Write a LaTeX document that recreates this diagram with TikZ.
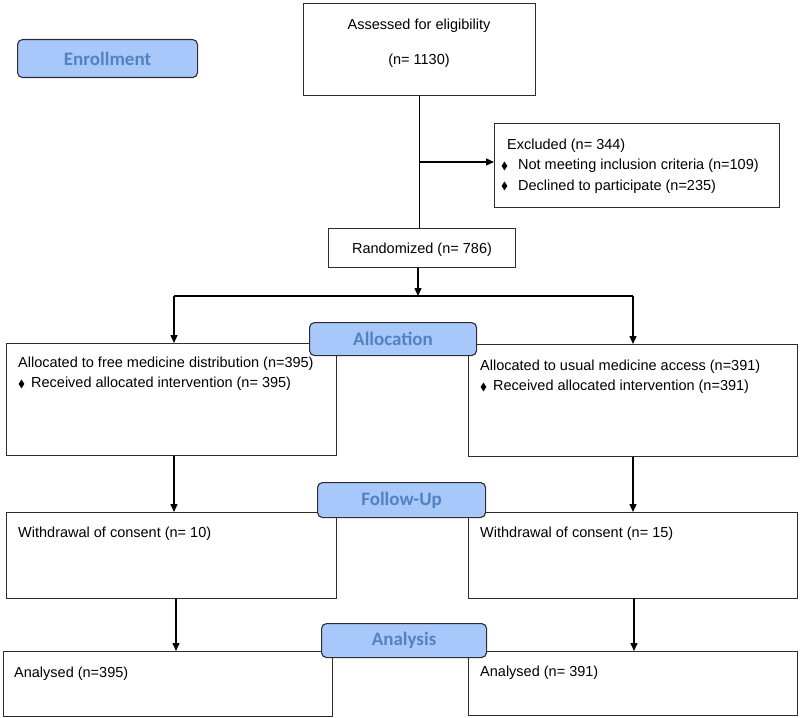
\documentclass[tikz,border=0pt]{standalone}
\usepackage{fontspec}
\usepackage{amssymb}
\setmainfont{Liberation Sans}
\newfontfamily\stagefont{Carlito}
\usetikzlibrary{arrows.meta}
\definecolor{lblfill}{RGB}{168,199,250}
\definecolor{lbltext}{RGB}{84,130,192}
\definecolor{edge}{RGB}{45,45,45}
\newcommand{\bul}{\raisebox{0.6bp}{\scalebox{0.72}{$\blacklozenge$}}}
\tikzset{
  box/.style={draw=edge, line width=1.1bp, inner sep=0pt, anchor=north west},
  txt/.style={anchor=north west, inner sep=0pt, align=left, font=\fontsize{14.5bp}{20.5bp}\selectfont},
  ctxt/.style={anchor=north, inner sep=0pt, align=center, font=\fontsize{14.5bp}{20.5bp}\selectfont},
  stage/.style={draw=edge, line width=1.1bp, fill=lblfill, rounded corners=5bp, inner sep=0pt,
    anchor=north west, text=lbltext, font=\stagefont\bfseries\fontsize{19bp}{22bp}\selectfont},
  conn/.style={draw=black, line width=1.4bp},
  arr/.style={conn, -{Triangle[length=8bp,width=7bp]}},
}
\begin{document}
\begin{tikzpicture}[x=1bp,y=-1bp]
\useasboundingbox (0,0) rectangle (800,718);
% boxes
\node[box, minimum width=232bp, minimum height=92bp] (assess) at (303,3) {};
\node[box, minimum width=285bp, minimum height=84bp] (excl) at (494,123) {};
\node[box, minimum width=187bp, minimum height=39bp] (rand) at (328,228) {};
\node[box, minimum width=330bp, minimum height=112bp] (allocL) at (6,343) {};
\node[box, minimum width=329bp, minimum height=112bp] (allocR) at (468,344) {};
\node[box, minimum width=330bp, minimum height=86bp] (fuL) at (6,512) {};
\node[box, minimum width=329bp, minimum height=86bp] (fuR) at (468,512) {};
\node[box, minimum width=329bp, minimum height=65bp] (anL) at (3,651) {};
\node[box, minimum width=329bp, minimum height=64bp] (anR) at (468,651) {};
% texts
\node[ctxt] (tassess) at (419,18.5) {Assessed for eligibility\\[14.5bp](n= 1130)};
\node[txt] (texcl) at (501,138.6) {\hspace*{6bp}Excluded (n= 344)\\\bul\hspace*{10bp}Not meeting inclusion criteria (n=109)\\\bul\hspace*{10bp}Declined to participate (n=235)};
\node[ctxt] (trand) at (422,242.6) {Randomized (n= 786)};
\node[txt] (tallocL) at (18,356.6) {Allocated to free medicine distribution (n=395)\\\bul\hspace*{6bp}Received allocated intervention (n= 395)};
\node[txt] (tallocR) at (480,359.6) {Allocated to usual medicine access (n=391)\\\bul\hspace*{6bp}Received allocated intervention (n=391)};
\node[txt] (tfuL) at (18,526.6) {Withdrawal of consent (n= 10)};
\node[txt] (tfuR) at (480,526.6) {Withdrawal of consent (n= 15)};
\node[txt] (tanL) at (14,666.6) {Analysed (n=395)};
\node[txt] (tanR) at (480,665.6) {Analysed (n= 391)};
% connectors
\coordinate (j1) at (419,162);
\coordinate (split) at (418,296);
\coordinate (splitL) at (174,296);
\coordinate (splitR) at (633,296);
\coordinate (colL2) at (176,598);
\coordinate (colR2) at (634,598);
\draw[conn] (assess.south) -- (assess.south |- rand.north);
\draw[arr] (j1) -- (j1 -| excl.west);
\draw[arr] (rand.south -| split) -- (split);
\draw[conn] (splitL) -- (splitR);
\draw[arr] (splitL) -- (splitL |- allocL.north);
\draw[arr] (splitR) -- (splitR |- allocR.north);
\draw[arr] (allocL.south -| splitL) -- (fuL.north -| splitL);
\draw[arr] (allocR.south -| splitR) -- (fuR.north -| splitR);
\draw[arr] (colL2) -- (colL2 |- anL.north);
\draw[arr] (colR2) -- (colR2 |- anR.north);
% stage labels
\node[stage, minimum width=180bp, minimum height=38bp] (enroll) at (17,39) {Enrollment};
\node[stage, minimum width=167bp, minimum height=33bp] (alloc) at (309,322) {Allocation};
\node[stage, minimum width=168bp, minimum height=35bp] (follow) at (317,482) {Follow-Up};
\node[stage, minimum width=165bp, minimum height=34bp] (analysis) at (321,623) {Analysis};
\end{tikzpicture}
\end{document}
